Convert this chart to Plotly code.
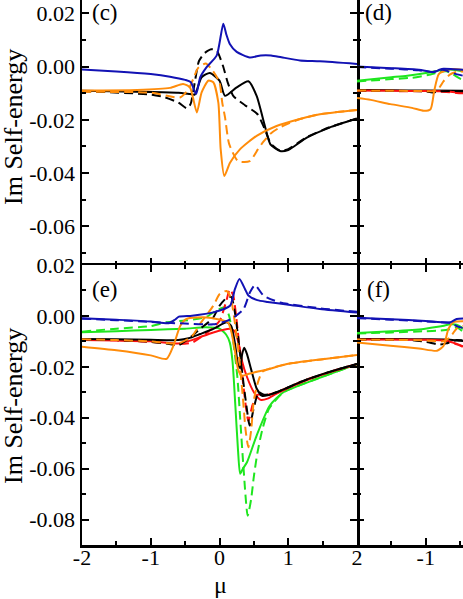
import plotly.graph_objects as go

# ---------------- data: panel (c) (top-left) ----------------
c_blue_x = [-2, -1.5, -1, -0.72, -0.5, -0.42, -0.34, -0.28, -0.19, -0.04, 0.055, 0.1, 0.15, 0.25, 0.44, 0.6, 0.75, 0.9, 1.17, 1.46, 2]
c_blue_y = [-0.0011, -0.0018, -0.0028, -0.0038, -0.0050, -0.0058, -0.0103, -0.0040, -0.0003, 0.0042, 0.0161, 0.0120, 0.0085, 0.0055, 0.0034, 0.0042, 0.0042, 0.0035, 0.0023, 0.0020, 0.0010]

c_black_x = [-2, -1, -0.6, -0.43, -0.36, -0.26, -0.14, 0.0, 0.08, 0.25, 0.42, 0.54, 0.66, 0.74, 0.88, 1.0, 1.27, 1.6, 2]
c_black_y = [-0.0091, -0.0095, -0.0098, -0.0103, -0.0105, -0.0040, -0.0024, -0.0053, -0.0110, -0.0078, -0.0055, -0.0110, -0.0223, -0.0292, -0.0317, -0.0313, -0.0267, -0.0229, -0.0195]

c_black_dash_x = [-2, -1, -0.8, -0.6, -0.47, -0.42, -0.36, -0.3, -0.22, -0.12, -0.04, 0.05, 0.12, 0.2, 0.37, 0.55, 0.65, 0.75, 0.88, 1.0, 1.27, 1.6, 2]
c_black_dash_y = [-0.0092, -0.0105, -0.0115, -0.0135, -0.0157, -0.0140, -0.0060, 0.0020, 0.0050, 0.0065, 0.0060, 0.0003, -0.0060, -0.0110, -0.0145, -0.0178, -0.0230, -0.0290, -0.0315, -0.0310, -0.0265, -0.0228, -0.0195]

c_orange_x = [-2, -1.2, -0.72, -0.53, -0.43, -0.33, -0.26, -0.163, -0.09, -0.017, 0.017, 0.07, 0.153, 0.3, 0.54, 0.83, 1.17, 1.46, 2]
c_orange_y = [-0.0090, -0.0088, -0.0080, -0.0065, -0.0078, -0.0172, -0.0097, -0.0053, -0.0059, -0.0135, -0.0310, -0.0411, -0.0361, -0.0310, -0.0260, -0.0223, -0.0197, -0.0179, -0.0163]

c_orange_dash_x = [-2, -1, -0.575, -0.45, -0.38, -0.31, -0.2, -0.1, 0.0, 0.04, 0.08, 0.14, 0.27, 0.44, 0.56, 0.63, 0.75, 0.88, 1.17, 1.46, 2]
c_orange_dash_y = [-0.0095, -0.0098, -0.0116, -0.0085, -0.0045, -0.0005, 0.0012, -0.0015, -0.0060, -0.0135, -0.0190, -0.0290, -0.0355, -0.0355, -0.0310, -0.0285, -0.0250, -0.0228, -0.0197, -0.0179, -0.0163]

# ---------------- data: panel (d) (top-right) ----------------
d_blue_x = [-2, -1.5, -1.1, -0.885, -0.8, -0.74, -0.6, -0.4]
d_blue_y = [0.0000, -0.0006, -0.0012, -0.0021, -0.0012, -0.0008, -0.0010, -0.0013]
d_blue_dash_x = [-2, -1.5, -1.1, -0.9, -0.75, -0.6, -0.4]
d_blue_dash_y = [-0.0002, -0.0008, -0.0014, -0.0020, -0.0012, -0.0025, -0.0038]
d_green_x = [-2, -1.5, -1.27, -0.93, -0.74, -0.6, -0.4]
d_green_y = [-0.0053, -0.0040, -0.0034, -0.0021, -0.0012, -0.0012, -0.0020]
d_green_dash_x = [-2, -1.5, -1.2, -0.93, -0.8, -0.7, -0.6, -0.5, -0.4]
d_green_dash_y = [-0.0056, -0.0047, -0.0042, -0.0030, -0.0020, -0.0018, -0.0030, -0.0045, -0.0055]
d_black_x = [-2, -1.5, -1, -0.4]
d_black_y = [-0.0088, -0.0089, -0.0090, -0.0091]
d_black_dash_x = [-2, -1.5, -1.0, -0.88, -0.8, -0.6, -0.4]
d_black_dash_y = [-0.0089, -0.0091, -0.0093, -0.0097, -0.0093, -0.0092, -0.0093]
d_red_x = [-2, -1.5, -1, -0.7, -0.55, -0.4]
d_red_y = [-0.0090, -0.0091, -0.0092, -0.0093, -0.0097, -0.0099]
d_red_dash_x = [-2, -1.5, -1, -0.7, -0.55, -0.4]
d_red_dash_y = [-0.0091, -0.0092, -0.0093, -0.0095, -0.0099, -0.0101]
d_orange_x = [-2, -1.8, -1.515, -1.2, -1.03, -0.93, -0.876, -0.81, -0.69, -0.6, -0.4]
d_orange_y = [-0.0118, -0.0125, -0.0141, -0.0155, -0.0166, -0.0160, -0.0090, -0.0028, -0.0013, -0.0009, -0.0015]
d_orange_dash_x = [-2, -1.5, -1, -0.9, -0.83, -0.74, -0.65, -0.55, -0.4]
d_orange_dash_y = [-0.0090, -0.0091, -0.0092, -0.0093, -0.0088, -0.0055, -0.0030, -0.0020, -0.0018]

# ---------------- data: panel (e) (bottom-left) ----------------
e_blue_x = [-2, -1.5, -1, -0.74, -0.65, -0.59, -0.4, -0.09, 0.153, 0.225, 0.29, 0.37, 0.42, 0.55, 0.7, 0.98, 1.46, 2]
e_blue_y = [-0.0009, -0.0015, -0.0022, -0.0029, -0.0015, -0.0003, 0.0001, 0.0014, 0.0040, 0.0106, 0.0145, 0.0106, 0.0080, 0.0062, 0.0055, 0.0045, 0.0027, 0.0013]
e_blue_dash_x = [-2, -1.5, -1, -0.5, -0.09, 0.153, 0.35, 0.443, 0.516, 0.64, 0.88, 1.46, 2]
e_blue_dash_y = [-0.0011, -0.0017, -0.0024, -0.0030, -0.0033, -0.0015, 0.0027, 0.0093, 0.0121, 0.0080, 0.0053, 0.0030, 0.0016]

e_green_x = [-2, -1.5, -1, -0.5, -0.2, 0.0, 0.1, 0.15, 0.19, 0.23, 0.27, 0.3, 0.34, 0.4, 0.54, 0.73, 0.93, 1.41, 2]
e_green_y = [-0.0064, -0.0060, -0.0055, -0.0050, -0.0045, -0.0050, -0.0075, -0.0105, -0.0180, -0.0350, -0.0530, -0.0620, -0.0600, -0.0575, -0.0470, -0.0353, -0.0300, -0.0248, -0.0190]
e_green_dash_x = [-2, -1.5, -1, -0.77, -0.5, -0.2, -0.04, 0.08, 0.14, 0.2, 0.26, 0.3, 0.35, 0.41, 0.46, 0.5, 0.55, 0.62, 0.72, 0.93, 1.41, 2]
e_green_dash_y = [-0.0062, -0.0050, -0.0040, -0.0025, -0.0018, -0.0005, 0.0022, 0.0034, 0.0000, -0.0100, -0.0240, -0.0400, -0.0600, -0.0785, -0.0720, -0.0630, -0.0540, -0.0450, -0.0365, -0.0300, -0.0248, -0.0190]

e_black_x = [-2, -1.5, -1, -0.6, -0.45, -0.28, -0.09, 0.105, 0.17, 0.22, 0.27, 0.3, 0.33, 0.36, 0.4, 0.46, 0.54, 0.62, 0.7, 0.83, 1.22, 1.6, 2]
e_black_y = [-0.0091, -0.0092, -0.0094, -0.0095, -0.0088, -0.0071, -0.0051, -0.0025, -0.0040, -0.0100, -0.0190, -0.0205, -0.0150, -0.0125, -0.0150, -0.0210, -0.0285, -0.0314, -0.0312, -0.0300, -0.0255, -0.0220, -0.0189]
e_black_dash_x = [-2, -1.5, -1.1, -0.73, -0.6, -0.43, -0.28, -0.1, 0.0, 0.1, 0.17, 0.22, 0.27, 0.32, 0.38, 0.44, 0.5, 0.57, 0.65, 0.83, 1.22, 1.6, 2]
e_black_dash_y = [-0.0092, -0.0095, -0.0100, -0.0110, -0.0115, -0.0085, -0.0050, -0.0010, 0.0040, 0.0070, 0.0075, 0.0020, -0.0080, -0.0200, -0.0330, -0.0431, -0.0360, -0.0300, -0.0310, -0.0300, -0.0255, -0.0220, -0.0189]

e_red_x = [-2, -1.5, -1, -0.6, -0.4, -0.28, -0.09, 0.153, 0.22, 0.28, 0.33, 0.4, 0.5, 0.6, 0.7, 0.83, 1.22, 1.6, 2]
e_red_y = [-0.0095, -0.0097, -0.0100, -0.0108, -0.0095, -0.0083, -0.0065, -0.0051, -0.0060, -0.0110, -0.0180, -0.0240, -0.0300, -0.0330, -0.0325, -0.0305, -0.0258, -0.0222, -0.0190]
e_red_dash_x = [-2, -1.5, -1, -0.6, -0.4, -0.2, 0.0, 0.1, 0.15, 0.2, 0.25, 0.3, 0.35, 0.42, 0.48, 0.55, 0.62, 0.7, 0.83, 1.22, 1.6, 2]
e_red_dash_y = [-0.0093, -0.0096, -0.0102, -0.0110, -0.0105, -0.0070, -0.0020, 0.0060, 0.0105, 0.0080, -0.0020, -0.0150, -0.0280, -0.0412, -0.0350, -0.0310, -0.0310, -0.0310, -0.0300, -0.0255, -0.0220, -0.0189]

e_orange_x = [-2, -1.5, -1, -0.77, -0.67, -0.57, -0.48, -0.19, 0.12, 0.17, 0.22, 0.27, 0.32, 0.4, 0.5, 0.7, 0.98, 1.5, 2]
e_orange_y = [-0.0121, -0.0135, -0.0155, -0.0169, -0.0117, -0.0039, -0.0012, -0.0006, -0.0025, -0.0060, -0.0130, -0.0210, -0.0235, -0.0230, -0.0222, -0.0210, -0.0189, -0.0170, -0.0154]
e_orange_dash_x = [-2, -1.5, -1, -0.6, -0.4, -0.28, -0.09, 0.0, 0.1, 0.16, 0.22, 0.28, 0.34, 0.38, 0.42, 0.46, 0.5, 0.56, 0.62, 0.7, 0.98, 1.5, 2]
e_orange_dash_y = [-0.0092, -0.0095, -0.0100, -0.0108, -0.0080, -0.0030, 0.0040, 0.0085, 0.0098, 0.0075, -0.0020, -0.0150, -0.0320, -0.0450, -0.0516, -0.0450, -0.0330, -0.0260, -0.0220, -0.0210, -0.0189, -0.0170, -0.0154]

# ---------------- data: panel (f) (bottom-right) ----------------
f_blue_x = [-2, -1.5, -1, -0.64, -0.55, -0.4]
f_blue_y = [-0.0007, -0.0013, -0.0020, -0.0025, -0.0012, -0.0010]
f_blue_dash_x = [-2, -1.5, -1, -0.64, -0.55, -0.4]
f_blue_dash_y = [-0.0009, -0.0015, -0.0022, -0.0028, -0.0040, -0.0052]
f_green_x = [-2, -1.5, -1.03, -0.8, -0.63, -0.55, -0.4]
f_green_y = [-0.0067, -0.0060, -0.0051, -0.0042, -0.0033, -0.0035, -0.0060]
f_green_dash_x = [-2, -1.5, -1, -0.8, -0.65, -0.55, -0.4]
f_green_dash_y = [-0.0069, -0.0065, -0.0060, -0.0058, -0.0052, -0.0045, -0.0075]
f_black_x = [-2, -1.5, -1, -0.7, -0.5, -0.4]
f_black_y = [-0.0091, -0.0091, -0.0092, -0.0093, -0.0098, -0.0100]
f_black_dash_x = [-2, -1.5, -1.27, -1.0, -0.8, -0.7, -0.55, -0.4]
f_black_dash_y = [-0.0092, -0.0093, -0.0094, -0.0102, -0.0113, -0.0108, -0.0095, -0.0098]
f_red_x = [-2, -1, -0.7, -0.55, -0.4]
f_red_y = [-0.0093, -0.0094, -0.0098, -0.0110, -0.0125]
f_red_dash_x = [-2, -1, -0.7, -0.55, -0.4]
f_red_dash_y = [-0.0094, -0.0095, -0.0100, -0.0112, -0.0128]
f_orange_x = [-2, -1.515, -1.1, -0.836, -0.74, -0.67, -0.6, -0.4]
f_orange_y = [-0.0104, -0.0117, -0.0128, -0.0137, -0.0117, -0.0051, -0.0025, -0.0021]
f_orange_dash_x = [-2, -1.5, -1, -0.75, -0.65, -0.55, -0.4]
f_orange_dash_y = [-0.0093, -0.0094, -0.0096, -0.0100, -0.0085, -0.0050, -0.0035]

# ticks
x_major = [-2, -1, 0, 1, 2]
x_major_text = ["-2", "-1", "0", "1", "2"]
x_minor = [-1.5, -0.5, 0.5, 1.5]
y_top_major = [0.02, 0.0, -0.02, -0.04, -0.06]
y_top_text = ["0.02", "0.00", "-0.02", "-0.04", "-0.06"]
y_bot_major = [0.02, 0.0, -0.02, -0.04, -0.06, -0.08]
y_bot_text = ["0.02", "0.00", "-0.02", "-0.04", "-0.06", "-0.08"]
y_minor = [0.01, -0.01, -0.03, -0.05, -0.07, -0.09]

BLUE = "#1212B4"
ORANGE = "#FF8C0A"
GREEN = "#1EE61E"
RED = "#FF1010"
BLACK = "#000000"

fig = go.Figure()


def add(x, y, color, dashed, xa, ya):
    fig.add_trace(go.Scatter(
        x=x, y=y, mode="lines", xaxis=xa, yaxis=ya, showlegend=False,
        line=dict(color=color, width=2, shape="spline", smoothing=0.6,
                  dash="9px,5px" if dashed else "solid"),
        hoverinfo="skip"))


# panel (c): x3/y3
add(c_black_x, c_black_y, BLACK, False, "x3", "y3")
add(c_black_dash_x, c_black_dash_y, BLACK, True, "x3", "y3")
add(c_orange_dash_x, c_orange_dash_y, ORANGE, True, "x3", "y3")
add(c_orange_x, c_orange_y, ORANGE, False, "x3", "y3")
add(c_blue_x, c_blue_y, BLUE, False, "x3", "y3")

# panel (d): x4/y4
add(d_black_x, d_black_y, BLACK, False, "x4", "y4")
add(d_red_x, d_red_y, RED, False, "x4", "y4")
add(d_red_dash_x, d_red_dash_y, RED, True, "x4", "y4")
add(d_black_dash_x, d_black_dash_y, BLACK, True, "x4", "y4")
add(d_green_x, d_green_y, GREEN, False, "x4", "y4")
add(d_green_dash_x, d_green_dash_y, GREEN, True, "x4", "y4")
add(d_orange_dash_x, d_orange_dash_y, ORANGE, True, "x4", "y4")
add(d_orange_x, d_orange_y, ORANGE, False, "x4", "y4")
add(d_blue_dash_x, d_blue_dash_y, BLUE, True, "x4", "y4")
add(d_blue_x, d_blue_y, BLUE, False, "x4", "y4")

# panel (e): x/y
add(e_green_x, e_green_y, GREEN, False, "x", "y")
add(e_green_dash_x, e_green_dash_y, GREEN, True, "x", "y")
add(e_red_x, e_red_y, RED, False, "x", "y")
add(e_red_dash_x, e_red_dash_y, RED, True, "x", "y")
add(e_black_x, e_black_y, BLACK, False, "x", "y")
add(e_black_dash_x, e_black_dash_y, BLACK, True, "x", "y")
add(e_orange_x, e_orange_y, ORANGE, False, "x", "y")
add(e_orange_dash_x, e_orange_dash_y, ORANGE, True, "x", "y")
add(e_blue_dash_x, e_blue_dash_y, BLUE, True, "x", "y")
add(e_blue_x, e_blue_y, BLUE, False, "x", "y")

# panel (f): x2/y2
add(f_black_x, f_black_y, BLACK, False, "x2", "y2")
add(f_red_x, f_red_y, RED, False, "x2", "y2")
add(f_red_dash_x, f_red_dash_y, RED, True, "x2", "y2")
add(f_black_dash_x, f_black_dash_y, BLACK, True, "x2", "y2")
add(f_green_x, f_green_y, GREEN, False, "x2", "y2")
add(f_green_dash_x, f_green_dash_y, GREEN, True, "x2", "y2")
add(f_orange_dash_x, f_orange_dash_y, ORANGE, True, "x2", "y2")
add(f_orange_x, f_orange_y, ORANGE, False, "x2", "y2")
add(f_blue_dash_x, f_blue_dash_y, BLUE, True, "x2", "y2")
add(f_blue_x, f_blue_y, BLUE, False, "x2", "y2")

FONT = "Liberation Serif, Times New Roman, serif"
W, H = 463, 599
ML, MB = 82, 54
PW = W - ML          # 381
PH = H - MB          # 545
split_x = 275 / PW
split_y = 280 / PH
right_max = -2 + (W - ML - 275) / 68.75

tickfont = dict(family=FONT, size=22, color="black")


def axis(**kw):
    d = dict(showline=True, linecolor="black", linewidth=2.5, showgrid=False,
             zeroline=False, ticks="inside", tickcolor="black", tickwidth=2,
             ticklen=7, tickfont=tickfont, automargin=False, tickmode="array")
    d.update(kw)
    return d


minor_x = dict(tickvals=x_minor, ticks="inside", ticklen=4, tickwidth=2, tickcolor="black", showgrid=False)
minor_y = dict(tickvals=y_minor, ticks="inside", ticklen=4, tickwidth=2, tickcolor="black", showgrid=False)

fig.update_layout(
    template="none",
    width=W, height=H, margin=dict(l=ML, r=0, t=0, b=MB, pad=0, autoexpand=False),
    paper_bgcolor="white", plot_bgcolor="white", showlegend=False,
    font=dict(family=FONT, color="black"),
    # bottom-left (e)
    xaxis=axis(domain=[0, split_x], range=[-2, 2], anchor="y", mirror="ticks",
               tickvals=x_major, ticktext=x_major_text, minor=minor_x, ticklabelstandoff=-9),
    yaxis=axis(domain=[0, split_y], range=[-0.09, 0.02], anchor="x", mirror="ticks",
               tickvals=y_bot_major, ticktext=y_bot_text, minor=minor_y),
    # bottom-right (f)
    xaxis2=axis(domain=[split_x, 1], range=[-2, right_max], anchor="y2", mirror="ticks",
                tickvals=x_major, ticktext=[""] + x_major_text[1:], minor=minor_x, ticklabelstandoff=-9),
    yaxis2=axis(domain=[0, split_y], range=[-0.09, 0.02], anchor="x2", mirror=False,
                showline=False, tickvals=y_bot_major, ticktext=y_bot_text, minor=minor_y,
                showticklabels=False),
    # top-left (c)
    xaxis3=axis(domain=[0, split_x], range=[-2, 2], anchor="y3", mirror=False,
                showline=False, tickvals=x_major, ticktext=x_major_text, minor=minor_x,
                showticklabels=False),
    yaxis3=axis(domain=[split_y, 1], range=[-0.0745, 0.025], anchor="x3", mirror="ticks",
                tickvals=y_top_major, ticktext=y_top_text, minor=minor_y),
    # top-right (d)
    xaxis4=axis(domain=[split_x, 1], range=[-2, right_max], anchor="y4", mirror=False,
                showline=False, tickvals=x_major, ticktext=x_major_text, minor=minor_x,
                showticklabels=False),
    yaxis4=axis(domain=[split_y, 1], range=[-0.0745, 0.025], anchor="x4", mirror=False,
                showline=False, tickvals=y_top_major, ticktext=y_top_text, minor=minor_y,
                showticklabels=False),
)


def px_x(p):
    return (p - ML) / PW


def px_y(p):
    return (PH - p) / PH


ann_font = dict(family=FONT, size=23, color="black")
title_font = dict(family=FONT, size=26, color="black")
mu_font = dict(family=FONT, size=24, color="black")
annotations = [
    dict(text="(c)", x=px_x(90), y=px_y(13), xanchor="left", yanchor="middle", font=ann_font),
    dict(text="(d)", x=px_x(363), y=px_y(13), xanchor="left", yanchor="middle", font=ann_font),
    dict(text="(e)", x=px_x(90), y=px_y(289), xanchor="left", yanchor="middle", font=ann_font),
    dict(text="(f)", x=px_x(365), y=px_y(289), xanchor="left", yanchor="middle", font=ann_font),
    dict(text="Im Self-energy", x=px_x(14), y=px_y(127), xanchor="center", yanchor="middle",
         textangle=-90, font=title_font),
    dict(text="Im Self-energy", x=px_x(14), y=px_y(406), xanchor="center", yanchor="middle",
         textangle=-90, font=title_font),
    dict(text="μ", x=px_x(220), y=px_y(585), xanchor="center", yanchor="middle", font=mu_font),
]
for a in annotations:
    a.update(xref="paper", yref="paper", showarrow=False)
fig.update_layout(annotations=annotations)

fig.write_html("out.html", config={"displayModeBar": False, "staticPlot": True},
               post_script="document.body.style.margin='0px';document.body.style.overflow='hidden';")
